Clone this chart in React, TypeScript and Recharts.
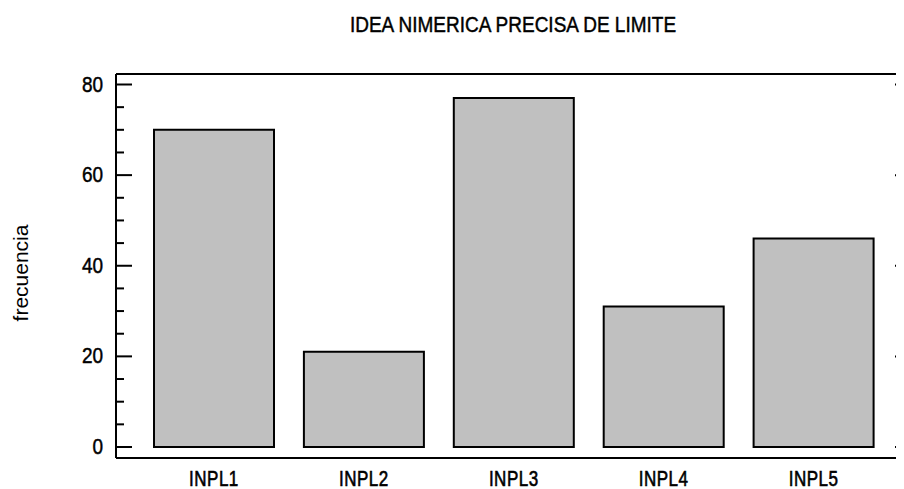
import React from "react";
import { BarChart, Bar, Line, XAxis, YAxis } from "recharts";

const categories = ["INPL1", "INPL2", "INPL3", "INPL4", "INPL5"];
const frecuencia = [70, 21, 77, 31, 46];
const yTicks = [0, 5, 10, 15, 20, 25, 30, 35, 40, 45, 50, 55, 60, 65, 70, 75, 80];
const yLabels = [0, 20, 40, 60, 80];
const title = "IDEA NIMERICA PRECISA DE LIMITE";
const yTitle = "frecuencia";

const data = categories.map((c, i) => ({ name: c, value: frecuencia[i] }));

const FONT = "'Liberation Sans', Arial, sans-serif";

const LeftTick = (props: any) => {
  const { x, y, payload } = props;
  const v = payload.value;
  const major = yLabels.includes(v);
  return (
    <g>
      <line x1={x} x2={x + (major ? 16 : 8)} y1={y} y2={y} stroke="#000" strokeWidth={2} />
      {major && (
        <text
          transform={`translate(${x - 13} ${y + 7}) scale(1 1.2)`}
          textAnchor="end"
          fontSize={19}
          fontFamily={FONT}
          fill="#000"
          stroke="#000"
          strokeWidth={0.4}
        >
          {v}
        </text>
      )}
    </g>
  );
};

const RightTick = (props: any) => {
  const { x, y, payload } = props;
  const major = yLabels.includes(payload.value);
  return <line x1={x - (major ? 16 : 8)} x2={x} y1={y} y2={y} stroke="#000" strokeWidth={2} />;
};

const BottomTick = (props: any) => {
  const { x, y, payload } = props;
  return (
    <text
      transform={`translate(${x} ${y + 28}) scale(1 1.25)`}
      textAnchor="middle"
      fontSize={17}
      fontFamily={FONT}
      fill="#000"
      stroke="#000"
      strokeWidth={0.5}
      letterSpacing={0.5}
    >
      {payload.value}
    </text>
  );
};

export default function App() {
  return (
    <div style={{ position: "relative", width: 896, height: 481, overflow: "hidden" }}>
      <BarChart
        width={920}
        height={481}
        data={data}
        margin={{ top: 65, right: 0, bottom: 0, left: 0 }}
        barSize={120}
      >
        <XAxis
          dataKey="name"
          height={31}
          padding={{ left: 23, right: 22.5 }}
          tickLine={false}
          tickSize={0}
          tickMargin={0}
          axisLine={{ stroke: "#000", strokeWidth: 2 }}
          tick={<BottomTick />}
          interval={0}
        />
        <XAxis
          xAxisId="top"
          orientation="top"
          dataKey="name"
          height={1}
          tick={false}
          tickLine={false}
          padding={{ left: 23, right: 22.5 }}
          axisLine={{ stroke: "#000", strokeWidth: 2 }}
        />
        <YAxis
          width={108}
          domain={[0, 80]}
          ticks={yTicks}
          interval={0}
          padding={{ top: 10.5, bottom: 11 }}
          tickLine={false}
          tickSize={0}
          tickMargin={0}
          axisLine={{ stroke: "#000", strokeWidth: 2 }}
          tick={<LeftTick />}
        />
        <YAxis
          yAxisId="right"
          orientation="right"
          width={17}
          domain={[0, 80]}
          ticks={yTicks}
          interval={0}
          padding={{ top: 10.5, bottom: 11 }}
          tickLine={false}
          tickSize={0}
          tickMargin={0}
          axisLine={{ stroke: "#000", strokeWidth: 2 }}
          tick={<RightTick />}
        />
        <Bar dataKey="value" fill="#c0c0c0" stroke="#000" strokeWidth={2} isAnimationActive={false} />
        <Line
          dataKey="value"
          xAxisId="top"
          yAxisId="right"
          stroke="none"
          dot={false}
          activeDot={false}
          isAnimationActive={false}
        />
      </BarChart>
      <svg width={896} height={481} style={{ position: "absolute", left: 0, top: 0, pointerEvents: "none" }}>
        <text
          transform="translate(505 24) scale(1 1.15)"
          textAnchor="middle"
          fontSize={19}
          fontFamily={FONT}
          fill="#000"
          stroke="#000"
          strokeWidth={0.4}
        >
          {title}
        </text>
        <text
          x={0}
          y={0}
          transform="translate(20 265) rotate(-90)"
          textAnchor="middle"
          fontSize={21}
          fontFamily={FONT}
          fill="#000"
        >
          {yTitle}
        </text>
      </svg>
    </div>
  );
}
